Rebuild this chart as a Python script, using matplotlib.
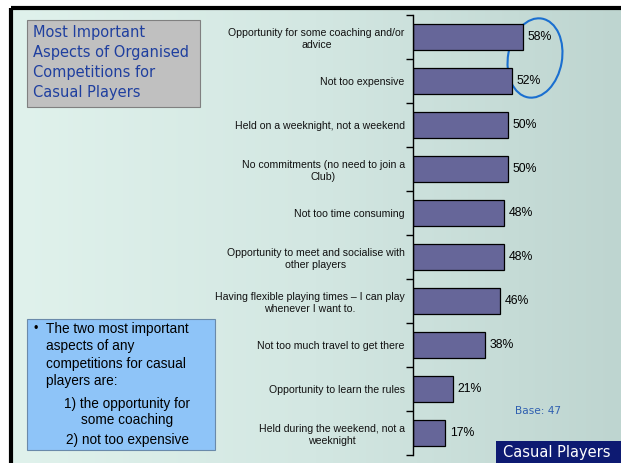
import numpy as np
import matplotlib.pyplot as plt
from matplotlib.patches import Rectangle, Ellipse
from matplotlib.colors import LinearSegmentedColormap

categories = [
    "Opportunity for some coaching and/or\nadvice",
    "Not too expensive",
    "Held on a weeknight, not a weekend",
    "No commitments (no need to join a\nClub)",
    "Not too time consuming",
    "Opportunity to meet and socialise with\nother players",
    "Having flexible playing times \u2013 I can play\nwhenever I want to.",
    "Not too much travel to get there",
    "Opportunity to learn the rules",
    "Held during the weekend, not a\nweeknight",
]
values = [58, 52, 50, 50, 48, 48, 46, 38, 21, 17]

W, H = 621, 463
fig = plt.figure(figsize=(W / 100, H / 100), dpi=100)

def fx(px):
    return px / W

def fy(py):
    return 1 - py / H

# background gradient
bg = fig.add_axes([0, 0, 1, 1], zorder=0)
bg.set_xlim(0, W)
bg.set_ylim(H, 0)
bg.axis("off")
grad = np.linspace(0, 1, 256).reshape(1, -1)
cmap = LinearSegmentedColormap.from_list("g", ["#e0f2ec", "#d3e7e2", "#bed5d0"])
bg.imshow(grad, cmap=cmap, extent=[11, W, H, 8], aspect="auto")
bg.plot([11, 11], [8, H], color="black", lw=3, solid_capstyle="butt")
bg.plot([11, W], [8, 8], color="black", lw=3, solid_capstyle="butt")

# title box
bg.add_patch(Rectangle((27, 20), 173, 87, facecolor="#c0c0c0", edgecolor="#808080", lw=0.8))
bg.text(33, 25, "Most Important\nAspects of Organised\nCompetitions for\nCasual Players",
        color="#1f3f9f", fontsize=10.5, family="DejaVu Sans", va="top", ha="left",
        linespacing=1.42)

# note box
bg.add_patch(Rectangle((27, 319), 188, 131, facecolor="#8ec4f8", edgecolor="#6a8aaa", lw=0.8))
bg.text(34, 329, "\u2022", fontsize=9, va="center", family="Liberation Sans")
bg.text(46, 322, "The two most important\naspects of any\ncompetitions for casual\nplayers are:",
        fontsize=9.8, va="top", ha="left", family="Liberation Sans", linespacing=1.3)
bg.text(127, 397, "1) the opportunity for\nsome coaching", fontsize=9.8, va="top", ha="center",
        family="Liberation Sans", linespacing=1.15)
bg.text(127, 440, "2) not too expensive", fontsize=9.8, va="center", ha="center",
        family="Liberation Sans")

# casual players box
bg.add_patch(Rectangle((496, 441), 125, 25, facecolor="#0d1a72", edgecolor="none"))
bg.text(557, 453, "Casual Players", color="white", fontsize=10.5, ha="center", va="center",
        family="DejaVu Sans")
bg.text(538, 411, "Base: 47", color="#2f5fb0", fontsize=7.6, ha="center", va="center",
        family="DejaVu Sans")

# chart axes
x0, x1 = 413, 615
y0, y1 = 15, 455
ax = fig.add_axes([fx(x0), fy(y1), fx(x1 - x0), (y1 - y0) / H], zorder=1)
ax.patch.set_alpha(0)
n = len(categories)
pos = np.arange(n)
ax.barh(pos, values, height=0.6, color="#666699", edgecolor="black", lw=0.9)
ax.set_ylim(n - 0.5, -0.5)
ax.set_xlim(0, (x1 - x0) / (110 / 58))
for s in ["top", "right", "bottom"]:
    ax.spines[s].set_visible(False)
ax.spines["left"].set_linewidth(1)
ax.set_xticks([])
ax.set_yticks(pos)
ax.set_yticklabels(categories, fontsize=7.6, family="Liberation Sans", ha="right",
                   color="#111111", linespacing=1.3)
ax.tick_params(axis="y", which="major", length=0, pad=6)
ax.set_yticks(np.arange(-0.5, n, 1), minor=True)
ax.tick_params(axis="y", which="minor", length=5, width=1, direction="out")
for lbl in ax.get_yticklabels():
    lbl.set_multialignment("center")
for i, v in enumerate(values):
    ax.text(v + 2.5, i, f"{v}%", va="center", ha="left", fontsize=8.8,
            family="Liberation Sans")

# highlight ellipse
bg.add_patch(Ellipse((535, 58), 54, 80, angle=10, fill=False, edgecolor="#1a6fd0", lw=1.5))

fig.savefig("out.png", dpi=100)
